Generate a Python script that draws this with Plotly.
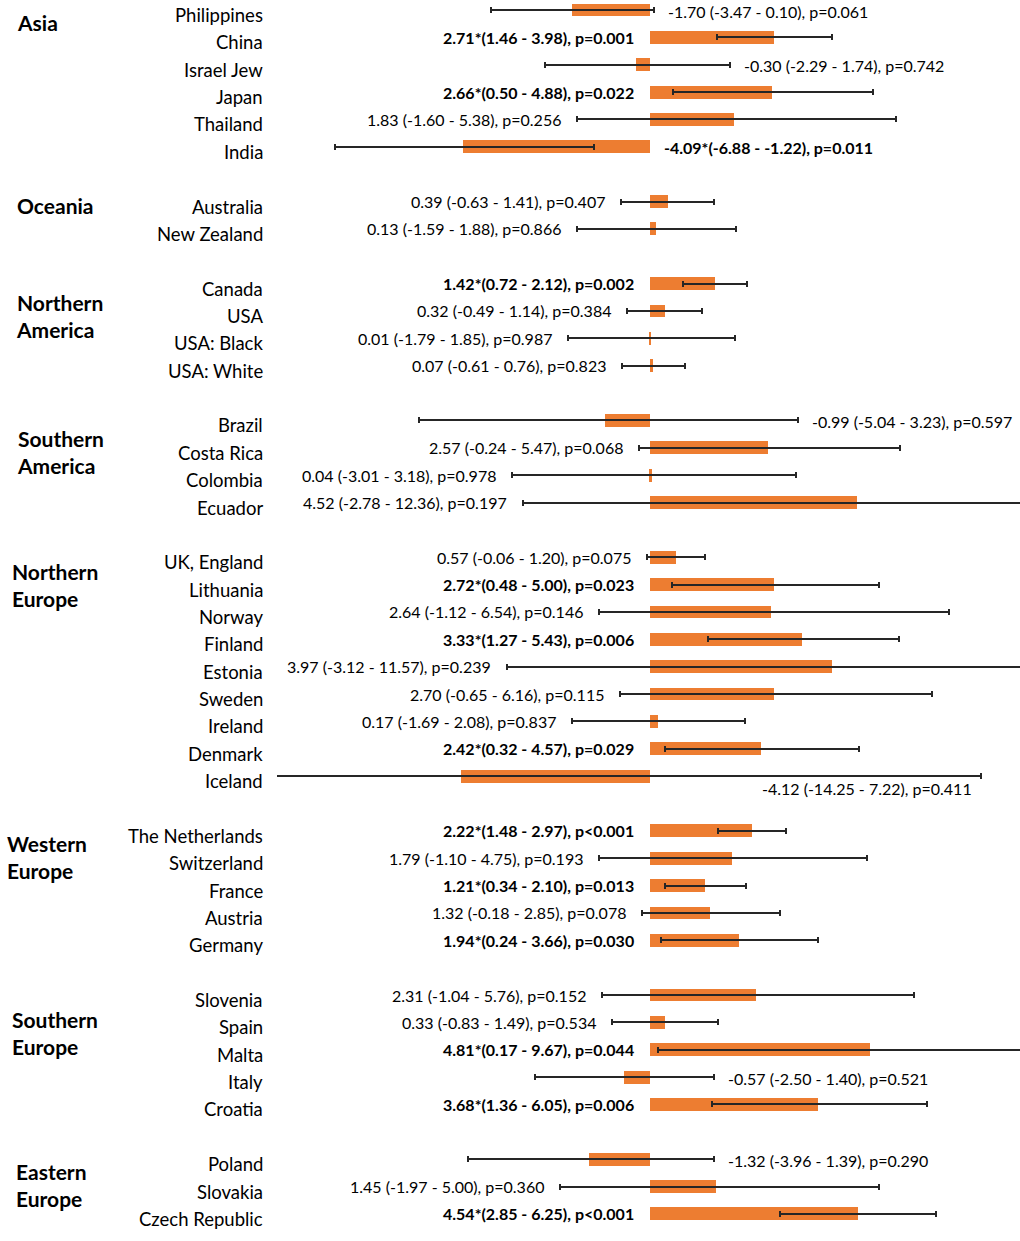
import plotly.graph_objects as go

# ---------------- data ----------------
groups = ["Asia", "Oceania", "Northern<br>America", "Southern<br>America",
          "Northern<br>Europe", "Western<br>Europe", "Southern<br>Europe", "Eastern<br>Europe"]
group_countries = [
    ["Philippines", "China", "Israel Jew", "Japan", "Thailand", "India"],
    ["Australia", "New Zealand"],
    ["Canada", "USA", "USA: Black", "USA: White"],
    ["Brazil", "Costa Rica", "Colombia", "Ecuador"],
    ["UK, England", "Lithuania", "Norway", "Finland", "Estonia", "Sweden", "Ireland", "Denmark", "Iceland"],
    ["The Netherlands", "Switzerland", "France", "Austria", "Germany"],
    ["Slovenia", "Spain", "Malta", "Italy", "Croatia"],
    ["Poland", "Slovakia", "Czech Republic"],
]
estimate = [-1.70, 2.71, -0.30, 2.66, 1.83, -4.09,
            0.39, 0.13,
            1.42, 0.32, 0.01, 0.07,
            -0.99, 2.57, 0.04, 4.52,
            0.57, 2.72, 2.64, 3.33, 3.97, 2.70, 0.17, 2.42, -4.12,
            2.22, 1.79, 1.21, 1.32, 1.94,
            2.31, 0.33, 4.81, -0.57, 3.68,
            -1.32, 1.45, 4.54]
ci_low = [-3.47, 1.46, -2.29, 0.50, -1.60, -6.88,
          -0.63, -1.59,
          0.72, -0.49, -1.79, -0.61,
          -5.04, -0.24, -3.01, -2.78,
          -0.06, 0.48, -1.12, 1.27, -3.12, -0.65, -1.69, 0.32, -14.25,
          1.48, -1.10, 0.34, -0.18, 0.24,
          -1.04, -0.83, 0.17, -2.50, 1.36,
          -3.96, -1.97, 2.85]
ci_high = [0.10, 3.98, 1.74, 4.88, 5.38, -1.22,
           1.41, 1.88,
           2.12, 1.14, 1.85, 0.76,
           3.23, 5.47, 3.18, 12.36,
           1.20, 5.00, 6.54, 5.43, 11.57, 6.16, 2.08, 4.57, 7.22,
           2.97, 4.75, 2.10, 2.85, 3.66,
           5.76, 1.49, 9.67, 1.40, 6.05,
           1.39, 5.00, 6.25]
p_values = ["0.061", "0.001", "0.742", "0.022", "0.256", "0.011",
            "0.407", "0.866",
            "0.002", "0.384", "0.987", "0.823",
            "0.597", "0.068", "0.978", "0.197",
            "0.075", "0.023", "0.146", "0.006", "0.239", "0.115", "0.837", "0.029", "0.411",
            "<0.001", "0.193", "0.013", "0.078", "0.030",
            "0.152", "0.534", "0.044", "0.521", "0.006",
            "0.290", "0.360", "<0.001"]

# ---------------- layout helpers ----------------
rows, names, group_first_row = [], [], []
r = 0
for gc in group_countries:
    group_first_row.append(r)
    for c in gc:
        rows.append(r)
        names.append(c)
        r += 1
    r += 1

group_label_offset = [0.44, 0.16, 1.18, 1.15, 1.02, 0.96, 1.39, 0.95]
group_label_px = [15, 15, 14, 15, 10, 5, 10, 14]

FONT = "Lato"
ORANGE = "#ED7D31"
ERR = "#262626"
PLOT_LEFT = 277
X_RANGE = [-8.14, 8.08]

fig = go.Figure()
fig.add_trace(go.Bar(
    x=estimate, y=rows, orientation="h", width=0.47,
    marker=dict(color=ORANGE, line=dict(width=0)),
    error_x=dict(type="data", symmetric=False,
                 array=[h - e for h, e in zip(ci_high, estimate)],
                 arrayminus=[e - l for e, l in zip(estimate, ci_low)],
                 color=ERR, thickness=2, width=3),
    hoverinfo="skip",
))

annotations = []
for rr, nm in zip(rows, names):
    annotations.append(dict(xref="paper", yref="y", x=0, y=rr, text=nm, showarrow=False,
                            xanchor="right", yanchor="middle", xshift=-12, yshift=-5,
                            font=dict(family=FONT, size=18.5, color="#000")))
for rr, e, lo, hi, p in zip(rows, estimate, ci_low, ci_high, p_values):
    sig = lo * hi > 0
    ptxt = ("p" + p) if p.startswith("<") else ("p=" + p)
    if sig:
        txt = "<b>%.2f*(%.2f - %.2f), %s</b>" % (e, lo, hi, ptxt)
    else:
        txt = "%.2f (%.2f - %.2f), %s" % (e, lo, hi, ptxt)
    f = dict(family=FONT, size=16, color="#000")
    if e >= 0:
        annotations.append(dict(xref="x", yref="y", x=min(lo, 0), y=rr, text=txt, showarrow=False,
                                xanchor="right", yanchor="middle", xshift=-14, font=f))
    elif hi > 6:
        annotations.append(dict(xref="x", yref="y", x=hi, y=rr + 0.47, text=txt, showarrow=False,
                                xanchor="right", yanchor="middle", xshift=-7, font=f))
    else:
        annotations.append(dict(xref="x", yref="y", x=max(hi, 0), y=rr, text=txt, showarrow=False,
                                xanchor="left", yanchor="middle", xshift=12, yshift=-1, font=f))
for g, fr, off, px in zip(groups, group_first_row, group_label_offset, group_label_px):
    annotations.append(dict(xref="paper", yref="y", x=0, y=fr + off, text="<b>%s</b>" % g,
                            showarrow=False, xanchor="left", yanchor="middle", align="left",
                            xshift=px - PLOT_LEFT, font=dict(family=FONT, size=21, color="#000")))

fig.update_layout(
    width=1020, height=1241,
    margin=dict(l=PLOT_LEFT, r=0, t=0, b=0),
    paper_bgcolor="white", plot_bgcolor="white",
    showlegend=False,
    xaxis=dict(range=X_RANGE, showgrid=False, zeroline=False, showticklabels=False,
               showline=False, fixedrange=True),
    yaxis=dict(range=[44.99, -0.3655], showgrid=False, zeroline=False, showticklabels=False,
               showline=False, fixedrange=True),
    annotations=annotations,
    bargap=0,
)
fig.write_html("out.html",
               config={"displayModeBar": False},
               post_script="document.body.style.margin='0px';document.body.style.overflow='hidden';")
